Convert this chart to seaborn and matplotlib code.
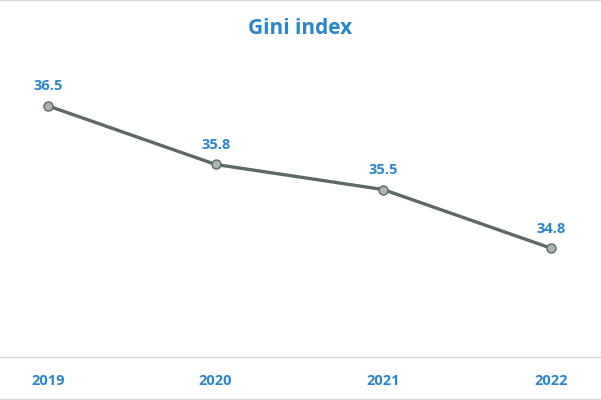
import matplotlib.pyplot as plt
import seaborn as sns
import pandas as pd

# Gini index by year
years = ["2019", "2020", "2021", "2022"]
gini = [36.5, 35.8, 35.5, 34.8]

blue = "#2b86c9"
line_col = "#5d6868"

sns.set_style("white")
plt.rcParams["font.family"] = ["Open Sans", "DejaVu Sans"]

df = pd.DataFrame({"year": years, "gini": gini})

fig = plt.figure(figsize=(6.01, 4.0), dpi=100)
ax = fig.add_axes([0.0, 0.1075, 1.0, 0.7325])

sns.lineplot(data=df, x="year", y="gini", ax=ax, color=line_col, linewidth=2.4,
             marker="o", markersize=6.5, markerfacecolor="#a9b3b0",
             markeredgecolor=line_col, markeredgewidth=1.0)

for i, v in enumerate(gini):
    ax.annotate(f"{v:.1f}", (i, v), xytext=(0, 9), textcoords="offset points",
                ha="center", va="bottom", color=blue, fontsize=10.5, fontweight="bold")

ax.set_xlim(-0.286, 3.298)
ax.set_ylim(33.5, 37.0)
ax.set_yticks([])
ax.set_xlabel("")
ax.set_ylabel("")
ax.tick_params(axis="x", length=0, pad=12, labelsize=10.5, labelcolor=blue)
for lbl in ax.get_xticklabels():
    lbl.set_fontweight("bold")

for s in ["top", "left", "right"]:
    ax.spines[s].set_visible(False)
ax.spines["bottom"].set_color("#d9d9d9")
ax.spines["bottom"].set_linewidth(1.0)

fig.text(0.5, 0.928, "Gini index", ha="center", va="center", color=blue,
         fontsize=15, fontweight="bold")

# light frame lines at top and bottom of the chart area
fig.add_artist(plt.Line2D([0, 1], [0.999, 0.999], color="#d9d9d9", linewidth=1.0))
fig.add_artist(plt.Line2D([0, 1], [0.002, 0.002], color="#d9d9d9", linewidth=1.0))

fig.savefig("out.png", dpi=100)
